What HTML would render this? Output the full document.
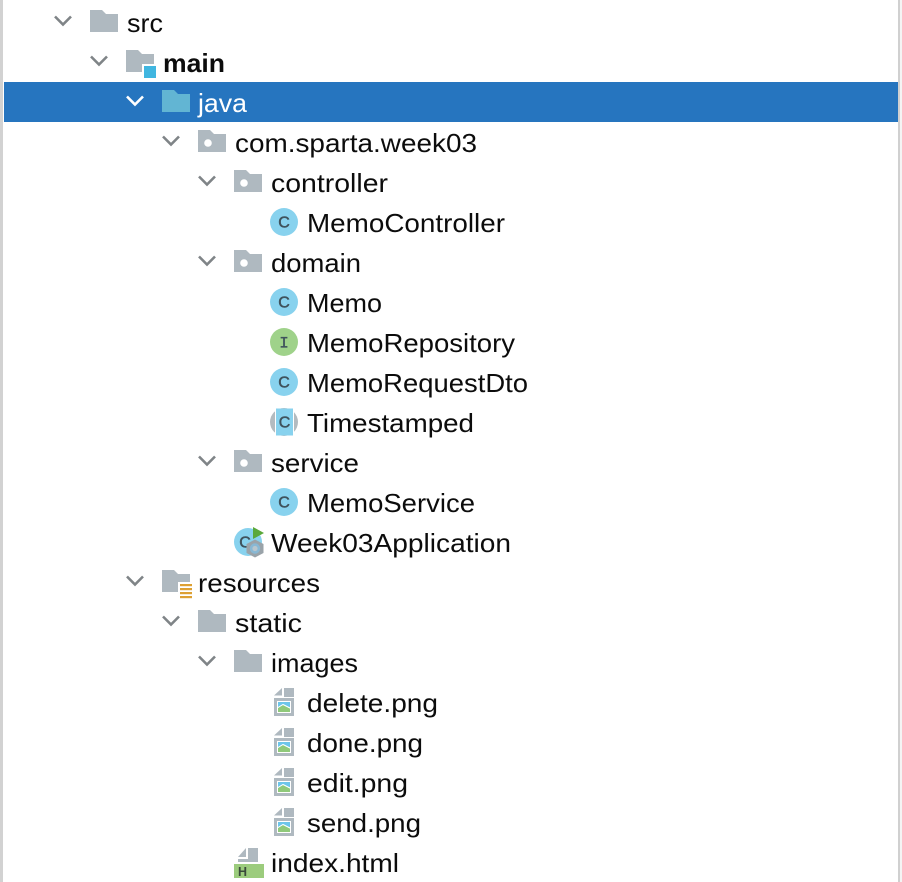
<!DOCTYPE html>
<html>
<head>
<meta charset="utf-8">
<title>Project tree</title>
<style>
html,body{margin:0;padding:0;background:#fff;width:902px;height:882px;overflow:hidden}
svg{display:block}
text.t{font-family:"Liberation Sans",sans-serif;font-size:26px;fill:#0c0c0c}
text.c{font-family:"Liberation Sans",sans-serif;font-size:16px;fill:#3f525c;stroke:#3f525c;stroke-width:.5;text-anchor:middle}
</style>
</head>
<body>
<svg width="902" height="882" viewBox="0 0 902 882" xmlns="http://www.w3.org/2000/svg">
<defs>
<path id="f" d="M0 0H12L16 4H28V22H0Z" fill="#afb9c0"/>
<g id="p"><use href="#f"/><circle cx="10" cy="13" r="3.8" fill="#fff"/></g>
<polyline id="ch" points="-8,0 0,8 8,0" fill="none" stroke="#7f8487" stroke-width="2.6"/>
<g id="cl"><circle r="14" fill="#88d2ee"/><text class="c" x="0" y="5.700">C</text></g>
<g id="img">
<path d="M0 7.5L8 0V7.5Z" fill="#afb9c0"/>
<path d="M10 0H20V9H10Z" fill="#afb9c0"/>
<path d="M0 10H20V28H0Z" fill="#afb9c0"/>
<rect x="3" y="13" width="14" height="12" fill="#fff"/>
<rect x="4" y="14" width="12" height="5.500" fill="#6cc5ea"/>
<path d="M4 20L9 17L16 20.500V24H4Z" fill="#8fc97a"/>
<path d="M4 19.500L9 16.500L16 20" fill="none" stroke="#fff" stroke-width="1"/>
</g>
</defs>
<rect x="0" y="0" width="3" height="882" fill="#d2d2d2"/>
<rect x="898" y="0" width="2" height="882" fill="#d0d0d0"/>
<rect x="900" y="0" width="2" height="882" fill="#f4f4f4"/>
<rect x="4" y="82" width="894" height="40" fill="#2675bf"/>

<use href="#ch" x="63" y="16.5"/>
<use href="#ch" x="99" y="56.5"/>
<polyline points="127,96.5 135,104.5 143,96.5" fill="none" stroke="#fff" stroke-width="2.6"/>
<use href="#ch" x="171" y="136.5"/>
<use href="#ch" x="207" y="176.5"/>
<use href="#ch" x="207" y="256.5"/>
<use href="#ch" x="207" y="456.5"/>
<use href="#ch" x="135" y="576.5"/>
<use href="#ch" x="171" y="616.5"/>
<use href="#ch" x="207" y="656.5"/>

<use href="#f" x="90" y="10"/>
<use href="#f" x="126" y="50"/>
<rect x="142" y="64" width="16" height="16" fill="#fff"/>
<rect x="144" y="66" width="12" height="12" fill="#40b6e0"/>
<path d="M162 90H174L178 94H190V112H162Z" fill="#62b5d3"/>
<use href="#p" x="198" y="130"/>
<use href="#p" x="234" y="170"/>
<use href="#cl" x="284" y="222"/>
<use href="#p" x="234" y="250"/>
<use href="#cl" x="284" y="302"/>
<circle cx="284" cy="342" r="14" fill="#9fd28a"/>
<text x="284" y="347.500" font-family="Liberation Mono,monospace" font-size="16" fill="#3f525c" stroke="#3f525c" stroke-width=".3" text-anchor="middle">I</text>
<use href="#cl" x="284" y="382"/>
<circle cx="284" cy="422" r="14" fill="#b3bbc0"/>
<rect x="275" y="407" width="1.200" height="30" fill="#fff"/>
<rect x="292.800" y="407" width="1.200" height="30" fill="#fff"/>
<path d="M276 408.500H293V435.500H276Z" fill="#88d2ee"/>
<text class="c" x="284.500" y="427.700">C</text>
<use href="#p" x="234" y="450"/>
<use href="#cl" x="284" y="502"/>
<g>
<circle cx="248" cy="542" r="14" fill="#88d2ee"/>
<text class="c" x="245" y="547.700">C</text>
<path d="M253 527L264 533L253 539Z" fill="#5aa83a"/>
<path d="M255 539.500L263.500 544V553L255 557.500L246.500 553V544Z" fill="#9aa3a9"/>
<circle cx="255" cy="548.500" r="5.200" fill="#88b8d4"/>
<circle cx="255" cy="548.500" r="2.600" fill="#b9c6cd"/>
</g>
<use href="#f" x="162" y="570"/>
<rect x="178" y="582" width="16" height="18" fill="#fff"/>
<rect x="180" y="584" width="12" height="2.200" fill="#dda033"/>
<rect x="180" y="588" width="12" height="2.200" fill="#dda033"/>
<rect x="180" y="592" width="12" height="2.200" fill="#dda033"/>
<rect x="180" y="596" width="12" height="2.200" fill="#dda033"/>
<use href="#f" x="198" y="610"/>
<use href="#f" x="234" y="650"/>
<use href="#img" x="274" y="688"/>
<use href="#img" x="274" y="728"/>
<use href="#img" x="274" y="768"/>
<use href="#img" x="274" y="808"/>
<path d="M238 857L246 848V857Z" fill="#afb9c0"/>
<path d="M248 848H258V862H248Z" fill="#afb9c0"/>
<rect x="238" y="859" width="20" height="3" fill="#afb9c0"/>
<rect x="234" y="864" width="30" height="14" fill="#9ccc7d"/>
<text x="238" y="876" font-family="Liberation Sans,sans-serif" font-weight="bold" font-size="12.500" fill="#3a4a3a">H</text>

<text class="t" x="127" y="32" textLength="36" lengthAdjust="spacingAndGlyphs">src</text>
<text class="t" x="163" y="72" textLength="62" lengthAdjust="spacingAndGlyphs" font-weight="bold">main</text>
<text class="t" x="198" y="112" textLength="49" lengthAdjust="spacingAndGlyphs" style="fill:#fff">java</text>
<text class="t" x="235" y="152" textLength="242" lengthAdjust="spacingAndGlyphs">com.sparta.week03</text>
<text class="t" x="271" y="192" textLength="117" lengthAdjust="spacingAndGlyphs">controller</text>
<text class="t" x="307" y="232" textLength="198" lengthAdjust="spacingAndGlyphs">MemoController</text>
<text class="t" x="271" y="272" textLength="90" lengthAdjust="spacingAndGlyphs">domain</text>
<text class="t" x="307" y="312" textLength="75" lengthAdjust="spacingAndGlyphs">Memo</text>
<text class="t" x="307" y="352" textLength="208" lengthAdjust="spacingAndGlyphs">MemoRepository</text>
<text class="t" x="307" y="392" textLength="221" lengthAdjust="spacingAndGlyphs">MemoRequestDto</text>
<text class="t" x="307" y="432" textLength="167" lengthAdjust="spacingAndGlyphs">Timestamped</text>
<text class="t" x="271" y="472" textLength="88" lengthAdjust="spacingAndGlyphs">service</text>
<text class="t" x="307" y="512" textLength="168" lengthAdjust="spacingAndGlyphs">MemoService</text>
<text class="t" x="271" y="552" textLength="240" lengthAdjust="spacingAndGlyphs">Week03Application</text>
<text class="t" x="198" y="592" textLength="122" lengthAdjust="spacingAndGlyphs">resources</text>
<text class="t" x="235" y="632" textLength="67" lengthAdjust="spacingAndGlyphs">static</text>
<text class="t" x="271" y="672" textLength="87" lengthAdjust="spacingAndGlyphs">images</text>
<text class="t" x="307" y="712" textLength="131" lengthAdjust="spacingAndGlyphs">delete.png</text>
<text class="t" x="307" y="752" textLength="116" lengthAdjust="spacingAndGlyphs">done.png</text>
<text class="t" x="307" y="792" textLength="101" lengthAdjust="spacingAndGlyphs">edit.png</text>
<text class="t" x="307" y="832" textLength="114" lengthAdjust="spacingAndGlyphs">send.png</text>
<text class="t" x="271" y="872" textLength="128" lengthAdjust="spacingAndGlyphs">index.html</text>
</svg>
</body>
</html>
